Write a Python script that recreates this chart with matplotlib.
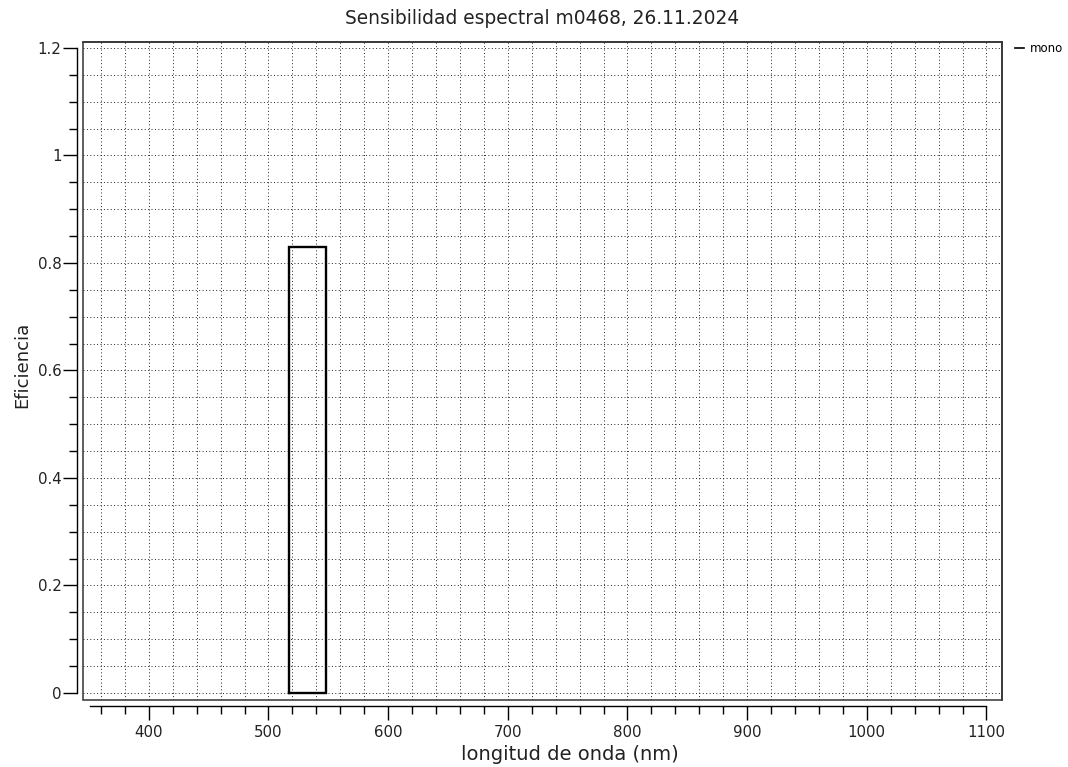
import matplotlib
matplotlib.use("Agg")
import matplotlib.pyplot as plt
import numpy as np
from matplotlib.patches import Rectangle

# Data
series_name = "mono"
wavelength = [517, 517, 548, 548, 517]
efficiency = [0.0, 0.83, 0.83, 0.0, 0.0]

title = "Sensibilidad espectral m0468, 26.11.2024"
xlabel = "longitud de onda (nm)"
ylabel = "Eficiencia"
x_major = [400, 500, 600, 700, 800, 900, 1000, 1100]
y_major = [0, 0.2, 0.4, 0.6, 0.8, 1.0, 1.2]
y_major_labels = ["0", "0.2", "0.4", "0.6", "0.8", "1", "1.2"]

plt.rcParams['font.family'] = ['DejaVu Sans']

W, H = 1068, 767
fig = plt.figure(figsize=(W / 100, H / 100), dpi=100)
L, R, T, B = 83, 1002, 42, 700
ax = fig.add_axes([L / W, 1 - B / H, (R - L) / W, (B - T) / H])

ax.set_xlim(345, 1113)
ax.set_ylim(-0.013, 1.211)

# grid (dotted at minor positions)
x_grid = np.arange(360, 1101, 20)
y_grid = np.arange(0, 1.2001, 0.05)
for xv in x_grid:
    ax.axvline(xv, color='#222222', lw=0.7, ls=(0, (1, 2.5)), zorder=1)
for yv in y_grid:
    ax.axhline(yv, color='#222222', lw=0.7, ls=(0, (1, 2.5)), zorder=1)

ax.plot(wavelength, efficiency, color='black', lw=1.7, label=series_name, zorder=3,
        solid_joinstyle='miter')

# offset axes
for s in ['left', 'bottom']:
    ax.spines[s].set_position(('outward', 4))
    ax.spines[s].set_linewidth(1.0)
ax.spines['left'].set_bounds(0, 1.2)
ax.spines['bottom'].set_bounds(351, 1100)
for s in ['top', 'right']:
    ax.spines[s].set_linewidth(1.1)
    ax.spines[s].set_color('#333333')

# frame
ax.add_patch(Rectangle((0, 0), 1, 1, transform=ax.transAxes, fill=False,
                       lw=1.1, edgecolor='#333333', clip_on=False, zorder=5))

ax.set_xticks(x_major)
ax.set_xticks(np.arange(360, 1101, 20), minor=True)
ax.set_yticks(y_major)
ax.set_yticklabels(y_major_labels)
ax.set_yticks(np.arange(0, 1.2001, 0.05), minor=True)
ax.tick_params(axis='both', which='major', direction='out', length=10, width=1.0,
               labelsize=10.8, colors='black', labelcolor='#222222')
ax.tick_params(axis='both', which='minor', direction='out', length=6, width=1.0)
ax.tick_params(axis='x', which='major', pad=4)
ax.tick_params(axis='y', which='major', pad=1.5)

fig.text(0.5 * (L + R) / W, 1 - 19 / H, title, fontsize=13.4, color='#222222',
         ha='center', va='center')
ax.set_xlabel(xlabel, fontsize=14, color='#222222', va='center', ha='center')
ax.xaxis.set_label_coords((570 - L) / (R - L), (B - 755) / (B - T))
ax.set_ylabel(ylabel, fontsize=13, color='#222222', va='center', ha='center')
ax.yaxis.set_label_coords((22 - L) / (R - L), (B - 365) / (B - T))

ax.legend(loc='upper left', bbox_to_anchor=(1.005, 1.012), frameon=False,
          handlelength=0.8, handletextpad=0.5, fontsize=8.5,
          borderaxespad=0.3)
leg = ax.get_legend()
for line in leg.get_lines():
    line.set_linewidth(1.2)

fig.savefig("out.png", dpi=100)
